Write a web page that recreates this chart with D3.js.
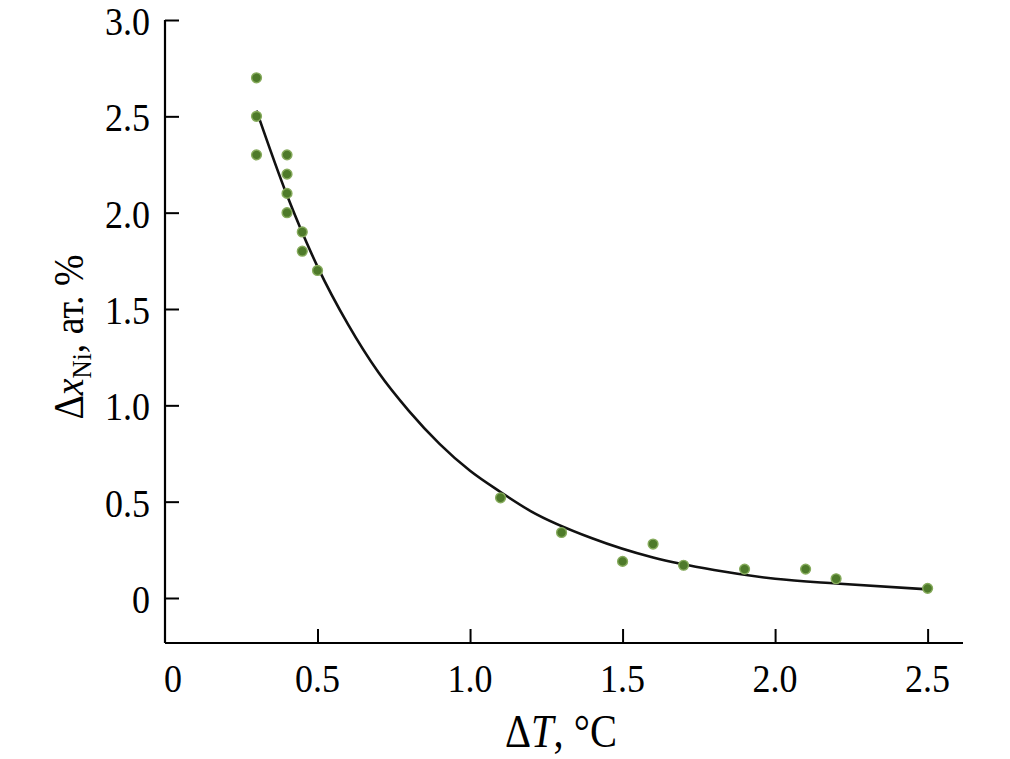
<!DOCTYPE html>
<html><head><meta charset="utf-8">
<script src="https://cdn.jsdelivr.net/npm/d3@7"></script>
<style>body{margin:0;background:#fff}svg{display:block}</style>
</head><body>
<svg id="c" width="1010" height="759"></svg>
<script>
// measured points
const ptX = [0.3,0.3,0.3,0.4,0.4,0.4,0.4,0.45,0.45,0.5,1.1,1.3,1.5,1.6,1.7,1.9,2.1,2.2,2.5];
const ptY = [2.7,2.5,2.3,2.3,2.2,2.1,2.0,1.9,1.8,1.7,0.52,0.34,0.19,0.28,0.17,0.15,0.15,0.10,0.05];
// fitted curve
const curveX = [0.3,0.4,0.5,0.6,0.7,0.8,0.9,1.0,1.1,1.2,1.4,1.6,1.8,2.0,2.2,2.5];
const curveY = [2.53,2.09,1.72,1.42,1.17,0.97,0.80,0.66,0.55,0.45,0.31,0.21,0.145,0.10,0.075,0.045];
const xTicks = [0,0.5,1.0,1.5,2.0,2.5];
const xTickLabels = ["0","0.5","1.0","1.5","2.0","2.5"];
const yTicks = [0,0.5,1.0,1.5,2.0,2.5,3.0];
const yTickLabels = ["0","0.5","1.0","1.5","2.0","2.5","3.0"];

const svg = d3.select("#c");
const L = 165, R = 963, T = 20, B = 643;
const x = d3.scaleLinear().domain([0, 2.616]).range([L, R]);
const y = d3.scaleLinear().domain([0, 3.0]).range([598, T]);
const font = "'Liberation Serif','Times New Roman',serif";
const SX = 0.9;

// axes
const xAxis = d3.axisBottom(x).tickValues(xTicks.filter(d=>d>0)).tickSize(-14).tickFormat("");
const gx = svg.append("g").attr("transform",`translate(0,${B})`).call(xAxis);
gx.select(".domain").attr("d",`M${L},0H${R}`);
const yAxis = d3.axisLeft(y).tickValues(yTicks).tickSize(-14).tickFormat("");
const gy = svg.append("g").attr("transform",`translate(${L},0)`).call(yAxis);
gy.select(".domain").attr("d",`M0,${T}V${B}`);
svg.selectAll(".domain").attr("stroke","#000").attr("stroke-width",2.2);
svg.selectAll(".tick line").attr("stroke","#000").attr("stroke-width",2);

// tick labels
svg.append("g").selectAll("text").data(xTicks).join("text")
  .attr("transform",(d,i)=>`translate(${x(d) + (i===0?8:0)},692) scale(${SX},1)`)
  .attr("text-anchor","middle").attr("font-family",font).attr("font-size",40)
  .text((d,i)=>xTickLabels[i]);
svg.append("g").selectAll("text").data(yTicks).join("text")
  .attr("transform",d=>`translate(150,${y(d)+1}) scale(${SX},1)`).attr("dy","0.35em")
  .attr("text-anchor","end").attr("font-family",font).attr("font-size",40)
  .text((d,i)=>yTickLabels[i]);

// curve
const line = d3.line().x(d=>x(d[0])).y(d=>y(d[1])).curve(d3.curveMonotoneX);
svg.append("path").datum(curveX.map((v,i)=>[v,curveY[i]]))
  .attr("d",line).attr("fill","none").attr("stroke","#111").attr("stroke-width",2.6);

// points
svg.append("g").selectAll("circle").data(ptX.map((v,i)=>[v,ptY[i]])).join("circle")
  .attr("cx",d=>x(d[0])).attr("cy",d=>y(d[1])).attr("r",4.9)
  .attr("fill","#4e7a2a").attr("stroke","#86ab5c").attr("stroke-width",1.4);

// x label
const xl = svg.append("text").attr("transform",`translate(561,747) scale(0.88,1)`).attr("text-anchor","middle")
  .attr("font-family",font).attr("font-size",46);
xl.append("tspan").text("Δ");
xl.append("tspan").attr("font-style","italic").text("T");
xl.append("tspan").text(", °C");

// y label
const yl = svg.append("text").attr("transform","translate(83,337) rotate(-90) scale(0.9,1)")
  .attr("text-anchor","middle").attr("font-family",font).attr("font-size",42);
yl.append("tspan").text("Δ");
yl.append("tspan").attr("font-style","italic").text("x");
yl.append("tspan").attr("font-size",28).attr("dy",8).text("Ni");
yl.append("tspan").attr("dy",-8).text(", ат. %");
</script>
</body></html>
